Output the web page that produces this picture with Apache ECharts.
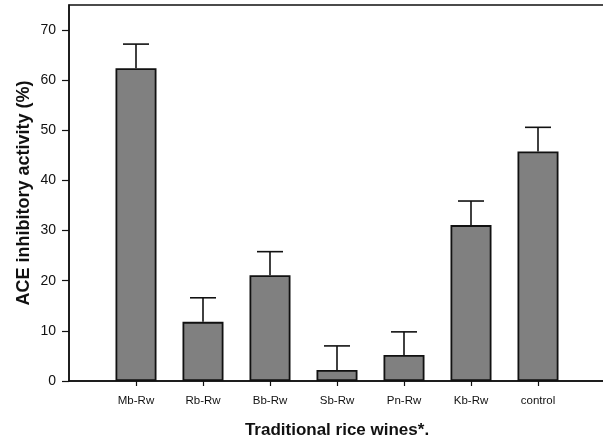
<!DOCTYPE html>
<html>
<head>
<meta charset="utf-8">
<title>ACE inhibitory activity</title>
<script src="https://cdn.jsdelivr.net/npm/echarts@6/dist/echarts.min.js"></script>
<style>
    html, body { margin: 0; padding: 0; background: #fff; overflow: hidden; }
    #container { width: 603px; height: 445px; }
</style>
</head>
<body>
<div id="container"></div>
<script>
var categories = ['Mb-Rw', 'Rb-Rw', 'Bb-Rw', 'Sb-Rw', 'Pn-Rw', 'Kb-Rw', 'control'];
var activity = [62.4, 11.8, 21.1, 2.2, 5.2, 31.1, 45.8];
var errors = [4.8, 4.8, 4.7, 4.8, 4.6, 4.8, 4.8];
var yTicks = [0, 10, 20, 30, 40, 50, 60, 70];

/*==========================================
 * 轴两端各留一个空位，柱子落在 1..7
 */
var axisData = [''].concat(categories).concat(['']);
var barData = [null];
var errData = [];
for (var i = 0, l = categories.length; i < l; i++) {
    barData.push(activity[i]);
    errData.push([i + 1, activity[i], activity[i] + errors[i]]);
};
barData.push(null);

function renderErrorBar(params, api) {
    var _x = api.value(0);
    var _low = api.coord([_x, api.value(1)]);
    var _high = api.coord([_x, api.value(2)]);
    var _half = 13;
    var _style = { stroke: '#111', lineWidth: 1.6 };
    return {
        type: 'group',
        children: [{
            type: 'line',
            shape: { x1: _low[0], y1: _low[1], x2: _high[0], y2: _high[1] },
            style: _style
        }, {
            type: 'line',
            shape: { x1: _high[0] - _half, y1: _high[1], x2: _high[0] + _half, y2: _high[1] },
            style: _style
        }]
    };
};

var myChart = echarts.init(document.getElementById('container'));
var option = {
    backgroundColor: '#fff',
    animation: false,
    textStyle: { fontFamily: 'Liberation Sans, Arial, sans-serif', color: '#111' },
    grid: {
        left: 69,
        width: 536, // 右边框在画面之外
        top: 5,
        bottom: 64,
        outerBoundsMode: 'none',
        show: true,
        borderColor: '#111',
        borderWidth: 1.5
    },
    xAxis: {
        type: 'category',
        data: axisData,
        boundaryGap: false,
        name: 'Traditional rice wines*.',
        nameLocation: 'middle',
        nameGap: 41,
        nameTextStyle: { fontSize: 17, fontWeight: 'bold', color: '#111' },
        axisLine: { lineStyle: { color: '#111', width: 1.5 } },
        axisTick: {
            length: 5,
            lineStyle: { color: '#111', width: 1.2 },
            interval: function(idx) { return idx > 0 && idx < axisData.length - 1; }
        },
        axisLabel: {
            fontSize: 11.5,
            color: '#111',
            margin: 14,
            interval: 0
        },
        splitLine: { show: false }
    },
    yAxis: {
        type: 'value',
        min: 0,
        max: 75,
        interval: 10,
        name: 'ACE inhibitory activity (%)',
        nameLocation: 'middle',
        nameGap: 36,
        nameMoveOverlap: false,
        nameTextStyle: { fontSize: 18, fontWeight: 'bold', color: '#111' },
        axisLine: { show: true, lineStyle: { color: '#111', width: 1.5 } },
        axisTick: { show: true, length: 7, lineStyle: { color: '#111', width: 1.2 } },
        axisLabel: {
            fontSize: 14,
            color: '#111',
            margin: 13,
            showMaxLabel: false,
            formatter: function(v) { return yTicks.indexOf(v) > -1 ? String(v) : ''; }
        },
        splitLine: { show: false }
    },
    series: [{
        type: 'bar',
        data: barData,
        barWidth: 41,
        itemStyle: {
            color: '#808080',
            borderColor: '#111',
            borderWidth: 1.8
        }
    }, {
        type: 'custom',
        data: errData,
        renderItem: renderErrorBar,
        z: 5
    }]
};
myChart.setOption(option);
</script>
</body>
</html>
